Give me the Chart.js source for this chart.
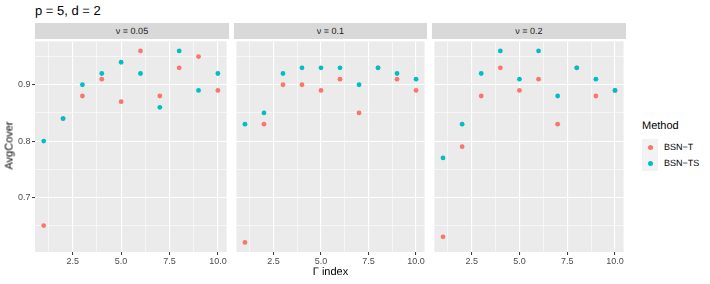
<!DOCTYPE html>
<html><head><meta charset="utf-8">
<script src="https://cdn.jsdelivr.net/npm/chart.js@4"></script>
<style>
body{margin:0;background:#fff;width:710px;height:284px;position:relative;overflow:hidden;font-family:"Liberation Sans",Arial,sans-serif;text-rendering:geometricPrecision;}
.abs{position:absolute;white-space:nowrap;}
.strip{position:absolute;top:23px;height:16px;background:#D9D9D9;color:#1A1A1A;font-size:9px;line-height:16px;text-align:center;}
.cv{position:absolute;top:39px;}
.dot{position:absolute;width:5px;height:5px;border-radius:50%;}
</style></head>
<body>
<div class="abs" style="left:35px;top:3px;font-size:13px;line-height:16px;color:#000;">p = 5, d = 2</div>
<div class="strip" style="left:35px;width:194px;">ν = 0.05</div>
<div class="strip" style="left:234px;width:193px;">ν = 0.1</div>
<div class="strip" style="left:432px;width:194px;">ν = 0.2</div>
<canvas id="c1" class="cv" style="left:0px;" width="229" height="245"></canvas>
<canvas id="c2" class="cv" style="left:234px;" width="193" height="245"></canvas>
<canvas id="c3" class="cv" style="left:432px;" width="194" height="245"></canvas>
<div class="abs" style="left:-20px;top:139px;width:60px;text-align:center;font-size:11px;line-height:13px;transform:rotate(-90deg);color:#000;">AvgCover</div>
<div class="abs" style="left:290px;top:266px;width:81px;text-align:center;font-size:11px;line-height:13px;color:#000;">Γ index</div>
<div class="abs" style="left:642px;top:120px;font-size:11px;line-height:13px;color:#000;">Method</div>
<div class="abs" style="left:642px;top:139px;width:16px;height:32px;background:#F2F2F2;"></div>
<div class="dot" style="left:647.5px;top:144.5px;background:#F8766D;"></div>
<div class="dot" style="left:647.5px;top:160.5px;background:#00BFC4;"></div>
<div class="abs" style="left:664px;top:141px;font-size:9px;line-height:12px;color:#000;">BSN−T</div>
<div class="abs" style="left:664px;top:157px;font-size:9px;line-height:12px;color:#000;">BSN−TS</div>
<script>
const gammaIndex = [1,2,3,4,5,6,7,8,9,10];
const bsnT_005  = [0.65,0.84,0.88,0.91,0.87,0.96,0.88,0.93,0.95,0.89];
const bsnTS_005 = [0.80,0.84,0.90,0.92,0.94,0.92,0.86,0.96,0.89,0.92];
const bsnT_01   = [0.62,0.83,0.90,0.90,0.89,0.91,0.85,0.93,0.91,0.89];
const bsnTS_01  = [0.83,0.85,0.92,0.93,0.93,0.93,0.90,0.93,0.92,0.91];
const bsnT_02   = [0.63,0.79,0.88,0.93,0.89,0.91,0.83,0.93,0.88,0.89];
const bsnTS_02  = [0.77,0.83,0.92,0.96,0.91,0.96,0.88,0.93,0.91,0.89];
const yMajor = [0.7,0.8,0.9];
const yMinor = [0.65,0.75,0.85,0.95];
const xMajor = [2.5,5.0,7.5,10.0];
const xMinor = [1.25,3.75,6.25,8.75];
const yRange = [0.603,0.977];
const xRange = [0.55,10.45];

const isMajor = (arr,v) => arr.some(a => Math.abs(a - v) < 1e-9);
const toPts = ys => gammaIndex.map((x,i) => ({x:x, y:ys[i]}));

const bgPlugin = {
  id:'panelBg',
  beforeDraw(chart){
    const a = chart.chartArea, c = chart.ctx;
    c.save(); c.fillStyle = '#EBEBEB';
    c.fillRect(a.left, a.top, a.right - a.left, a.bottom - a.top);
    c.restore();
  }
};

function makePanel(id, tData, tsData, showY){
  const ticksAll = (maj, min) => maj.concat(min).sort((a,b)=>a-b).map(v => ({value:v}));
  new Chart(document.getElementById(id), {
    type:'scatter',
    data:{datasets:[
      {label:'BSN−T', data:toPts(tData), backgroundColor:'#F8766D', pointRadius:2.4, pointHoverRadius:2.4, borderWidth:0, order:2},
      {label:'BSN−TS', data:toPts(tsData), backgroundColor:'#00BFC4', pointRadius:2.4, pointHoverRadius:2.4, borderWidth:0, order:1}
    ]},
    options:{
      responsive:false, animation:false, devicePixelRatio:1,
      layout:{padding:0},
      plugins:{legend:{display:false}, tooltip:{enabled:false}},
      events:[],
      scales:{
        x:{
          type:'linear', min:xRange[0], max:xRange[1],
          afterBuildTicks: s => { s.ticks = ticksAll(xMajor, xMinor); },
          afterFit: s => { s.height = 32; s.paddingLeft = 0; s.paddingRight = 0; },
          border:{display:false},
          grid:{
            color:'#FFFFFF',
            lineWidth: ctx => isMajor(xMajor, ctx.tick.value) ? 1.1 : 0.55,
            drawTicks:true, tickLength:3, tickWidth:1,
            tickColor: ctx => isMajor(xMajor, ctx.tick.value) ? '#333333' : 'rgba(0,0,0,0)'
          },
          ticks:{
            autoSkip:false, maxRotation:0, minRotation:0, padding:1,
            color:'#4D4D4D', font:{family:'Liberation Sans', size:9},
            callback: v => isMajor(xMajor, v) ? Number(v).toFixed(1) : ''
          }
        },
        y:{
          type:'linear', min:yRange[0], max:yRange[1],
          afterBuildTicks: s => { s.ticks = ticksAll(yMajor, yMinor); },
          afterFit: s => { s.width = showY ? 35 : 0; s.paddingTop = 0; s.paddingBottom = 0; },
          border:{display:false},
          grid:{
            color:'#FFFFFF',
            lineWidth: ctx => isMajor(yMajor, ctx.tick.value) ? 1.1 : 0.55,
            drawTicks:showY, tickLength:3, tickWidth:1,
            tickColor: ctx => isMajor(yMajor, ctx.tick.value) ? '#333333' : 'rgba(0,0,0,0)'
          },
          ticks:{
            display:showY, autoSkip:false, padding:1.5,
            color:'#4D4D4D', font:{family:'Liberation Sans', size:9},
            callback: v => isMajor(yMajor, v) ? Number(v).toFixed(1) : ''
          }
        }
      }
    },
    plugins:[bgPlugin]
  });
}

makePanel('c1', bsnT_005, bsnTS_005, true);
makePanel('c2', bsnT_01, bsnTS_01, false);
makePanel('c3', bsnT_02, bsnTS_02, false);
</script>
</body></html>
